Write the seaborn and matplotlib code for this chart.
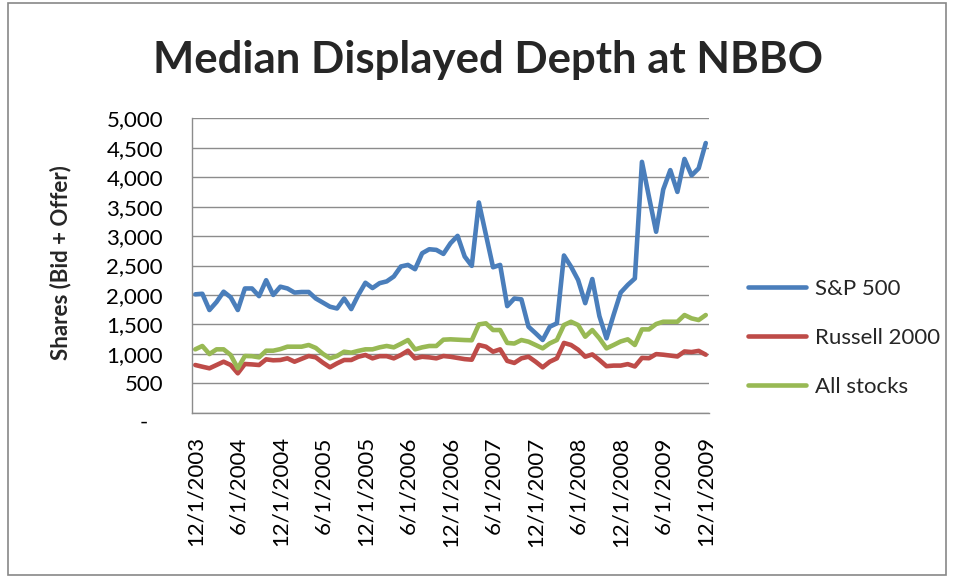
import matplotlib
matplotlib.use("Agg")
import matplotlib.pyplot as plt
import seaborn as sns
import pandas as pd
from matplotlib.patches import Rectangle
from matplotlib.ticker import FuncFormatter

# ---- data (monthly, 12/2003 .. 12/2009) ----
sp500 = [2010, 2020, 1744, 1880, 2055, 1960, 1744, 2110, 2110, 1980,
         2250, 2000, 2140, 2110, 2040, 2050, 2050, 1940, 1870, 1800,
         1770, 1940, 1760, 2000, 2207, 2117, 2200, 2230, 2313, 2483,
         2510, 2437, 2708, 2776, 2765, 2697, 2878, 3003, 2652, 2494,
         3570, 3020, 2470, 2510, 1810, 1940, 1925, 1460, 1350, 1235,
         1460, 1518, 2670, 2480, 2253, 1860, 2270, 1640, 1263, 1660,
         2040, 2170, 2280, 4260, 3660, 3073, 3790, 4120, 3750, 4310,
         4030, 4150, 4580]
russell2000 = [810, 781, 754, 810, 866, 810, 669, 827, 820, 810,
               906, 890, 895, 923, 866, 915, 963, 940, 850, 771,
               838, 895, 895, 950, 980, 923, 960, 960, 923, 980,
               1053, 923, 950, 940, 923, 963, 950, 930, 910, 900,
               1150, 1121, 1036, 1076, 880, 845, 923, 951, 866, 771,
               866, 923, 1185, 1150, 1070, 951, 990, 895, 790, 800,
               800, 825, 785, 930, 925, 995, 985, 970, 955, 1040,
               1030, 1050, 985]
all_stocks = [1076, 1133, 996, 1076, 1076, 980, 754, 963, 960, 940,
              1053, 1053, 1080, 1121, 1121, 1121, 1150, 1100, 1000, 923,
              963, 1036, 1019, 1050, 1076, 1076, 1110, 1133, 1110, 1170,
              1234, 1076, 1110, 1133, 1133, 1240, 1246, 1240, 1234, 1230,
              1500, 1518, 1404, 1404, 1185, 1175, 1234, 1206, 1150, 1093,
              1178, 1234, 1489, 1545, 1489, 1291, 1404, 1263, 1093, 1150,
              1210, 1246, 1150, 1415, 1415, 1506, 1545, 1545, 1545, 1659,
              1602, 1574, 1659]
series_names = ["S&P 500", "Russell 2000", "All stocks"]
x_tick_labels = ["12/1/2003", "6/1/2004", "12/1/2004", "6/1/2005", "12/1/2005",
                 "6/1/2006", "12/1/2006", "6/1/2007", "12/1/2007", "6/1/2008",
                 "12/1/2008", "6/1/2009", "12/1/2009"]
y_ticks = [0, 500, 1000, 1500, 2000, 2500, 3000, 3500, 4000, 4500, 5000]

colors = ["#4A7EBB", "#BE4B48", "#98B954"]

n = len(sp500)
df = pd.DataFrame({
    "month": list(range(n)) * 3,
    "value": sp500 + russell2000 + all_stocks,
    "series": [series_names[0]] * n + [series_names[1]] * n + [series_names[2]] * n,
})

sns.set_style("white")
plt.rcParams["font.family"] = ["Lato", "DejaVu Sans"]

W, H = 955, 578
fig = plt.figure(figsize=(W / 100, H / 100), dpi=100)
ax = fig.add_axes([191.7 / W, 1 - 412.7 / H, (709.3 - 191.7) / W, (412.7 - 118.3) / H])

sns.lineplot(data=df, x="month", y="value", hue="series", palette=colors,
             hue_order=series_names, linewidth=3.3, ax=ax, legend=True,
             solid_capstyle="round", solid_joinstyle="round")

handles, labels = ax.get_legend_handles_labels()
ax.get_legend().remove()

ax.set_xlim(-0.5, n - 0.5)
ax.set_ylim(0, 5000)
ax.set_yticks(y_ticks)
ax.yaxis.set_major_formatter(FuncFormatter(lambda v, p: "" if v == 0 else f"{int(v):,}"))
ax.set_xticks(list(range(0, n, 6)))
ax.set_xticklabels(x_tick_labels, rotation=90, va="top", ha="center")

grid_col = "#8C8C8C"
ax.grid(axis="y", color=grid_col, linewidth=1.0)
ax.grid(axis="x", visible=False)
ax.set_axisbelow(True)
for s in ["top", "right"]:
    ax.spines[s].set_visible(False)
for s in ["left", "bottom"]:
    ax.spines[s].set_color(grid_col)
    ax.spines[s].set_linewidth(1.0)

ax.tick_params(axis="y", length=3.6, width=1.0, color=grid_col, pad=17,
               labelsize=16, labelcolor="black")
ax.tick_params(axis="x", length=0, pad=17, labelsize=16, labelcolor="black")

# Excel accounting style dash for zero
ax.annotate("-", xy=(0, 0), xycoords=("axes fraction", "data"),
            xytext=(-48, -10), textcoords="offset pixels",
            ha="center", va="center", fontsize=16, color="black")

ax.set_xlabel("")
ax.set_ylabel("")
fig.text(61 / W, 1 - 263 / H, "Shares (Bid + Offer)", rotation=90,
         ha="center", va="center", fontsize=16, fontweight="bold")

fig.text(488 / W, 1 - 60 / H, "Median Displayed Depth at NBBO",
         ha="center", va="center", fontsize=31.5, fontweight="bold")

leg = fig.legend(handles, labels, loc="upper left",
                 bbox_to_anchor=(748 / W, 1 - 279 / H), frameon=False,
                 fontsize=16, handlelength=2.6, handletextpad=0.4,
                 labelspacing=1.3, borderpad=0, borderaxespad=0)
for h in leg.get_lines():
    h.set_linewidth(3.3)

fig.patches.append(Rectangle((8 / W, 3 / H), (946 - 8) / W, (575 - 3) / H,
                             transform=fig.transFigure, fill=False,
                             edgecolor="#878787", linewidth=1.2))

fig.savefig("out.png", dpi=100)
